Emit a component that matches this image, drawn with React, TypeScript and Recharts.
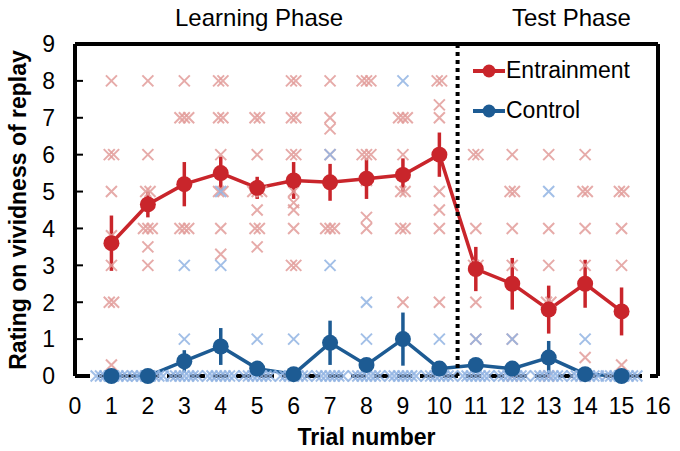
import {
  ComposedChart,
  Line,
  Scatter,
  ErrorBar,
  XAxis,
  YAxis,
  ReferenceLine,
} from "recharts";

const trials = [1, 2, 3, 4, 5, 6, 7, 8, 9, 10, 11, 12, 13, 14, 15];

const entrainmentMean = [3.6, 4.65, 5.2, 5.5, 5.1, 5.3, 5.25, 5.35, 5.45, 6.0, 2.9, 2.5, 1.8, 2.5, 1.75];
const entrainmentSE = [0.75, 0.35, 0.6, 0.45, 0.3, 0.5, 0.5, 0.55, 0.45, 0.6, 0.6, 0.7, 0.65, 0.65, 0.65];
const controlMean = [0, 0, 0.4, 0.8, 0.2, 0.05, 0.9, 0.3, 1.0, 0.2, 0.3, 0.2, 0.5, 0.05, 0];
const controlSE = [0, 0, 0.3, 0.5, 0.1, 0.05, 0.6, 0.15, 0.72, 0.1, 0.1, 0.1, 0.45, 0.05, 0];

// individual ratings per trial
const entrainmentRatings = [
  [8, 6, 6, 5, 3.8, 3, 2, 2, 0.3],
  [8, 6, 5, 5, 4, 4, 4, 3.5, 3],
  [8, 7, 7, 7, 4, 4, 4],
  [8, 8, 7, 7, 6, 5, 5, 4, 3.3],
  [7, 7, 6, 5, 5, 5, 4.5, 4, 4, 3.5],
  [8, 8, 7, 7, 6, 6, 5, 4.7, 4.5, 4, 3, 3],
  [8, 7, 6.7, 6, 4, 4, 4],
  [8, 8, 8, 6, 6, 6, 5.3, 4.3, 4],
  [7, 7, 7, 6, 5, 5, 4, 4, 2],
  [8, 8, 7.35, 7, 6, 5, 4.5, 4, 2],
  [6, 6, 4, 3, 3, 2, 1],
  [6, 5, 5, 4, 3, 1, 0],
  [6, 4, 3, 2, 2, 0.5, 0],
  [6, 5, 5, 4, 3, 0.5, 0],
  [5, 5, 4, 3, 0.3, 0],
];
const controlRatings = [
  [0, 0, 0, 0, 0, 0, 0, 0],
  [0, 0, 0, 0, 0, 0, 0, 0],
  [3, 1, 0, 0, 0, 0, 0, 0, 0],
  [5, 3, 0, 0, 0, 0, 0, 0, 0],
  [1, 0, 0, 0, 0, 0, 0, 0],
  [1, 0, 0, 0, 0, 0, 0, 0],
  [6, 3, 0, 0, 0, 0, 0, 0, 0],
  [2, 1, 0, 0, 0, 0, 0, 0, 0],
  [8, 1, 0, 0, 0, 0, 0, 0, 0],
  [1, 0, 0, 0, 0, 0, 0, 0],
  [1, 0, 0, 0, 0, 0, 0, 0],
  [1, 0, 0, 0, 0, 0, 0, 0],
  [5, 0, 0, 0, 0, 0, 0, 0],
  [1, 0, 0, 0, 0, 0, 0, 0],
  [0, 0, 0, 0, 0, 0, 0, 0],
];

const RED = "#c9252b";
const BLUE = "#1d5b93";
const RED_X = "#e29c9a";
const BLUE_X = "#92b4e3";
const FONT = "'Liberation Sans', Arial, Helvetica, sans-serif";

const entrainmentData = trials.map((t, i) => ({ x: t, y: entrainmentMean[i], err: entrainmentSE[i] }));
const controlData = trials.map((t, i) => ({ x: t, y: controlMean[i], err: controlSE[i] }));

// spread repeated ratings sideways so they don't sit on each other
function spread(ratings: number[][]) {
  const pts: { x: number; y: number }[] = [];
  ratings.forEach((vals, i) => {
    const groups: Record<string, number> = {};
    vals.forEach((v) => (groups[v] = (groups[v] || 0) + 1));
    Object.keys(groups).forEach((k) => {
      const n = groups[k];
      for (let j = 0; j < n; j++) {
        pts.push({ x: trials[i] + (j - (n - 1) / 2) * 0.12, y: Number(k) });
      }
    });
  });
  return pts;
}

const entrainmentPts = spread(entrainmentRatings);
const controlPts = spread(controlRatings);

const makeCross = (color: string) => (props: any) => {
  const { cx, cy } = props;
  const s = 5.5;
  return (
    <path
      d={`M${cx - s},${cy - s}L${cx + s},${cy + s}M${cx - s},${cy + s}L${cx + s},${cy - s}`}
      stroke={color}
      strokeWidth={2}
      fill="none"
      opacity={0.85}
    />
  );
};

function YTick(props: any) {
  const { x, y, payload } = props;
  return (
    <g>
      <text x={x} y={y} textAnchor="end" dy="0.36em" fontSize={23} fill="#000" fontFamily={FONT}>
        {payload.value}
      </text>
      <line x1={x + 22} x2={x + 28} y1={y} y2={y} stroke="#000" strokeWidth={2} />
    </g>
  );
}

function LegendItem({ color, label, top }: { color: string; label: string; top: number }) {
  return (
    <div style={{ position: "absolute", left: 472, top, display: "flex", alignItems: "center" }}>
      <svg width={34} height={16}>
        <line x1={1} x2={33} y1={8} y2={8} stroke={color} strokeWidth={4} />
        <circle cx={17} cy={8} r={6.5} fill={color} />
      </svg>
      <span style={{ fontSize: 23, fontFamily: FONT, color: "#000", marginLeft: 0 }}>{label}</span>
    </div>
  );
}

export default function App() {
  return (
    <div style={{ position: "relative", width: 680, height: 451, background: "#fff" }}>
      <style>{"body{margin:0}"}</style>
      <ComposedChart width={680} height={451} margin={{ top: 44, right: 22, bottom: 0, left: 0 }}>
        <XAxis
          type="number"
          dataKey="x"
          domain={[0, 16]}
          ticks={[0, 1, 2, 3, 4, 5, 6, 7, 8, 9, 10, 11, 12, 13, 14, 15, 16]}
          axisLine={false}
          tickLine={false}
          tickSize={0}
          tickMargin={22}
          height={75}
          tick={{ fill: "#000", fontSize: 23, fontFamily: FONT }}
          label={{
            value: "Trial number",
            position: "insideBottom",
            offset: 6,
            style: { fill: "#000", fontSize: 23, fontWeight: "bold", fontFamily: FONT },
          }}
        />
        <YAxis
          type="number"
          domain={[0, 9]}
          ticks={[0, 1, 2, 3, 4, 5, 6, 7, 8, 9]}
          width={75}
          axisLine={{ stroke: "#000", strokeWidth: 4 }}
          tickLine={false}
          tickSize={0}
          tickMargin={20}
          tick={<YTick />}
          label={{
            value: "Rating on vividness of replay",
            angle: -90,
            position: "insideLeft",
            offset: 18,
            style: { textAnchor: "middle", fill: "#000", fontSize: 23, fontWeight: "bold", fontFamily: FONT },
          }}
        />
        <Line
          data={entrainmentData}
          dataKey="y"
          stroke={RED}
          strokeWidth={3.5}
          dot={{ r: 8, fill: RED, stroke: RED, strokeWidth: 0 }}
          isAnimationActive={false}
        >
          <ErrorBar dataKey="err" width={0} stroke={RED} strokeWidth={3.5} direction="y" />
        </Line>
        <Line
          data={controlData}
          dataKey="y"
          stroke={BLUE}
          strokeWidth={3.5}
          dot={{ r: 8, fill: BLUE, stroke: BLUE, strokeWidth: 0 }}
          isAnimationActive={false}
        >
          <ErrorBar dataKey="err" width={0} stroke={BLUE} strokeWidth={3.5} direction="y" />
        </Line>
        <Scatter data={entrainmentPts} dataKey="y" shape={makeCross(RED_X)} isAnimationActive={false} />
        <Scatter data={controlPts} dataKey="y" shape={makeCross(BLUE_X)} isAnimationActive={false} />
        <ReferenceLine y={9} stroke="#000" strokeWidth={4} />
        <ReferenceLine x={16} stroke="#000" strokeWidth={4} />
        <ReferenceLine y={0} stroke="#000" strokeWidth={4} strokeDasharray="15 8" />
        <ReferenceLine x={10.5} stroke="#000" strokeWidth={4} strokeDasharray="4 4" />
      </ComposedChart>
      <div style={{ position: "absolute", left: 175, top: 4, fontSize: 24, fontFamily: FONT, color: "#000" }}>
        Learning Phase
      </div>
      <div style={{ position: "absolute", left: 512, top: 4, fontSize: 24, fontFamily: FONT, color: "#000" }}>
        Test Phase
      </div>
      <LegendItem color={RED} label="Entrainment" top={57} />
      <LegendItem color={BLUE} label="Control" top={97} />
    </div>
  );
}
